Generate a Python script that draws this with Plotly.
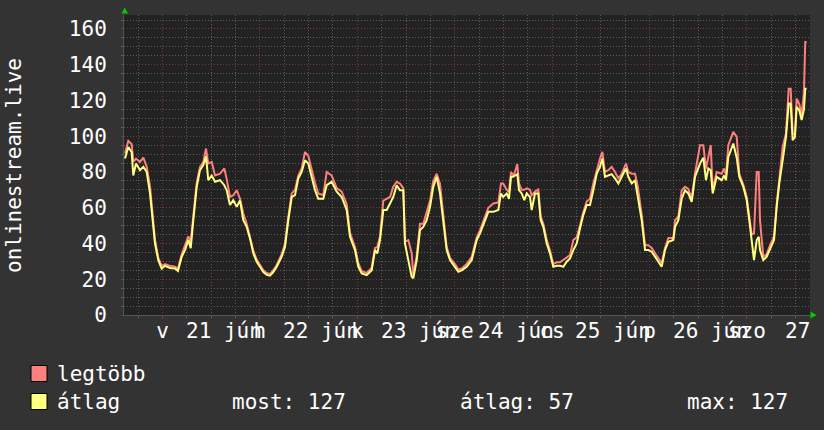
import pandas as pd
import plotly.graph_objects as go

# ---- data (hours after 2020-06-20 14:30) ----
hours = [0.25, 1.06, 1.9, 2.29, 2.96, 3.94, 4.76, 5.59, 6.41, 6.83, 7.22, 7.64, 8.45, 9.29, 10.1, 11.34, 12.57, 13.3,
         14.22, 15.03, 15.85, 16.44, 17.08, 17.92, 18.73, 19.54, 20.21, 20.77, 21.61, 22.43, 23.66, 24.72, 25.31, 26.12,
         26.93, 27.77, 28.59, 29.4, 30.24, 31.05, 31.86, 32.7, 33.51, 34.33, 35.17, 35.98, 36.79, 37.63, 38.86, 39.67,
         40.49, 41.33, 42.14, 42.95, 43.79, 44.6, 45.42, 46.25, 47.07, 47.88, 49.11, 49.95, 51.18, 52.42, 53.65, 54.88,
         55.69, 56.92, 57.74, 58.58, 59.81, 61.04, 61.85, 62.42, 63.09, 63.9, 64.74, 65.55, 66.36, 67.2, 68.01, 68.83,
         69.24, 70.06, 70.9, 71.29, 72.13, 72.94, 73.75, 74.59, 75.41, 76.22, 77.06, 77.87, 78.68, 79.52, 80.34, 81.57,
         82.38, 83.22, 84.45, 85.68, 86.92, 87.73, 88.96, 89.78, 91.01, 92.24, 92.9, 93.47, 94.31, 94.87, 95.37, 95.93,
         96.35, 96.92, 97.34, 98.0, 98.64, 99.24, 100.05, 100.47, 101.28, 102.09, 102.69, 103.33, 104.17, 104.98,
         105.79, 106.63, 107.44, 108.26, 109.09, 109.91, 110.72, 111.56, 112.37, 113.18, 114.02, 114.83, 115.65,
         116.49, 117.3, 117.87, 118.53, 119.35, 120.18, 121.0, 121.82, 122.65, 123.71, 124.28, 125.12, 125.93, 126.6,
         127.58, 128.4, 129.2, 130.04, 130.86, 132.5, 133.32, 134.14, 135.37, 135.79, 136.6, 137.43, 138.24, 139.06,
         139.9, 140.71, 141.95, 142.76, 143.42, 143.99, 144.58, 145.07, 146.06, 147.29, 147.86, 148.35, 148.92,
         150.15, 150.99, 151.63, 152.61, 153.45, 154.09, 154.68, 155.25, 155.92, 156.41, 156.73, 157.54, 158.38,
         159.19, 160.18, 160.84, 161.48, 162.32, 163.13, 163.8, 164.29, 164.78, 165.34, 165.76, 166.4, 166.99,
         167.56, 167.88, 168.23]

atlag = [87.5, 94, 91, 78, 84.7, 81, 82.9, 80, 68, 59.6, 49.3, 40, 30.7, 26, 27.5, 26.3, 26, 24.6,
         32.6, 36.3, 41.9, 37.4, 53, 71.7, 81, 83.8, 88.8, 75.4, 78, 74.5, 75.4, 72.6, 69.8, 61.5,
         64.2, 60.5, 64, 53, 49.3, 42.8, 34.5, 29.8, 27, 24, 22.5, 22, 24, 27, 32.6, 38,
         53, 66, 67, 76.4, 80, 86.6, 84.7, 77.3, 69.8, 65, 65, 72.6, 74.5, 69, 66, 58.7,
         43.7, 36.3, 27, 23.3, 22.3, 25, 36.3, 34.5, 41.9, 58.7, 58.7, 62.4, 66, 72.6, 69.8, 69.8,
         40, 30.7, 21.4, 20.5, 30.7, 47.5, 49.3, 53, 60.5, 71.7, 77.3, 68, 53, 36.3, 30.7, 27,
         24.2, 25, 27, 30.7, 41.9, 45.6, 53, 57.7, 57.7, 58.7, 68, 66, 68, 65, 77.3, 77.3,
         78, 78.8, 69.8, 68, 64.2, 68, 66, 58.7, 68, 68, 53, 49.3, 40, 34.5,
         27, 27.5, 27.5, 27, 29.8, 31.7, 36.3, 40, 48.4, 55.9, 61.5, 61.5, 69.8,
         79, 82.9, 87.5, 77.3, 78, 78.8, 76.4, 73.6, 77.3, 82, 77.3, 73.6, 75.4, 67,
         53, 36.3, 36.3, 35.4, 32.6, 27, 36.3, 41, 42, 49.3, 53, 65, 69.8, 68,
         63.3, 77.3, 84.7, 88, 75.4, 82, 81, 68, 77.3, 75.4, 78, 75.4, 88.4,
         95.9, 88, 77.3, 71.7, 64.2, 53, 41.9, 30.7, 41.9, 43.7, 36.3, 30.7, 32.6,
         37.3, 41.9, 60.5, 73.6, 86.6, 99.6, 118.3, 118.3, 97.8, 99.6, 116.4, 114.5, 109,
         115, 126.6, 126.6]

legtobb = [90.5, 97.4, 95.5, 85.6, 87.5, 85.6, 88, 83, 72, 63, 52, 42, 32, 27.5, 28.5, 27.5, 27, 26,
           34, 39, 44, 41, 56, 74, 82.9, 85.6, 93.1, 84.7, 85.6, 78, 79, 82, 76, 66,
           67, 69.8, 65, 56.8, 51, 44, 36, 31, 28, 25, 23.5, 23, 25, 28, 34, 40,
           55, 68, 70, 78, 82, 91.2, 89, 81, 74, 68, 67, 80, 78, 71, 69, 62,
           46, 38, 29, 24.5, 23.5, 26.5, 37.5, 38, 44, 64, 65, 66, 71.7, 74.5, 73.5, 71,
           41, 41.9, 34.5, 22.3, 33, 51, 51, 57, 64, 75, 79, 73.5, 55, 38, 32, 28.5,
           25.5, 26, 28.5, 32.5, 43.5, 47.5, 55, 60, 62.4, 63, 73.6, 73.6, 70, 69, 80, 78,
           80, 84.4, 73.6, 70, 70, 70.8, 70, 67, 69, 70.2, 55, 51, 42, 36,
           28.5, 29.5, 29.5, 31, 32.5, 33.5, 41.9, 43.5, 50, 57.5, 63.5, 65, 73.5,
           81, 87.5, 91.2, 80, 81, 82.9, 80, 76.5, 79, 84.7, 80, 79, 79, 72,
           56, 39, 39, 37.5, 34.5, 29, 37.5, 43, 43, 53, 55, 69.8, 71.7, 70.5,
           65, 79, 95, 95, 81.9, 88.4, 95, 70, 80, 79, 81.9, 78, 95,
           102.4, 99.6, 79, 73, 66, 55, 45, 45.6, 80, 80, 53, 32.5, 34,
           39, 44, 62, 74.5, 94, 101.5, 126.6, 126.6, 101.5, 101, 121, 118, 112,
           124.8, 152.7, 152.7]

day_dates = ["2020-06-21", "2020-06-22", "2020-06-23", "2020-06-24", "2020-06-25", "2020-06-26", "2020-06-27"]
day_names = ["v", "h", "k", "sze", "cs", "p", "szo"]
date_labels = ["21 jún", "22 jún", "23 jún", "24 jún", "25 jún", "26 jún", "27"]
y_ticks = [0, 20, 40, 60, 80, 100, 120, 140, 160]

legend_names = ["legtöbb", "átlag"]
stats_labels = ["most: 127", "átlag: 57", "max: 127"]

# ---- layout constants ----
W, H = 824, 430
ML, MR, MT, MB = 124, 14, 15, 115
PW, PH = W - ML - MR, H - MT - MB
FONT = "DejaVu Sans Mono"
FS = 21
RED = "#ff7f7f"
YEL = "#ffff80"


def px(xp):
    return (xp - ML) / PW


def py(yp):
    return (H - MB - yp) / PH


start = pd.Timestamp("2020-06-20 14:30")
t = start + pd.to_timedelta(hours, unit="h")
x_end = start + pd.Timedelta(hours=169.05)

fig = go.Figure()
fig.add_trace(go.Scatter(x=t, y=legtobb, mode="lines", line=dict(color=RED, width=2), name=legend_names[0]))
fig.add_trace(go.Scatter(x=t, y=atlag, mode="lines", line=dict(color=YEL, width=2), name=legend_names[1]))

grid_major = "#7a3838"
grid_minor = "#5c5c5c"

fig.update_layout(
    width=W, height=H,
    margin=dict(l=ML, r=MR, t=MT, b=MB),
    paper_bgcolor="#333333",
    plot_bgcolor="#222222",
    showlegend=False,
    font=dict(family=FONT, size=FS, color="#ffffff"),
    xaxis=dict(
        type="date",
        range=[start, x_end],
        tickmode="array",
        tickvals=day_dates,
        ticktext=day_names,
        showgrid=True, gridcolor=grid_major, griddash="1px,2px", gridwidth=1,
        ticks="outside", ticklen=3, tickcolor=grid_major,
        showline=True, linecolor="#555555", linewidth=1,
        zeroline=False,
        ticklabelstandoff=-6,
        tickfont=dict(family=FONT, size=FS, color="#ffffff"),
        minor=dict(tick0="2020-06-21", dtick=6 * 3600000, showgrid=True, gridcolor=grid_minor,
                   griddash="1px,2px", ticks="outside", ticklen=2, tickcolor=grid_minor),
    ),
    yaxis=dict(
        range=[0, 167.8],
        tickmode="array",
        tickvals=y_ticks,
        showgrid=True, gridcolor=grid_major, griddash="1px,2px", gridwidth=1,
        ticks="outside", ticklen=2, tickcolor=grid_major,
        showline=True, linecolor="#555555", linewidth=1,
        zeroline=False,
        ticklabelstandoff=10,
        tickfont=dict(family=FONT, size=FS, color="#ffffff"),
        minor=dict(tick0=0, dtick=5, showgrid=True, gridcolor=grid_minor,
                   griddash="1px,2px", ticks="outside", ticklen=2, tickcolor=grid_minor),
    ),
)

annotations = []
# date labels under the axis
for i, (d, lab) in enumerate(zip(day_dates, date_labels)):
    if i < len(day_dates) - 1:
        ax = pd.Timestamp(d) + pd.Timedelta(hours=6)
        annotations.append(dict(x=ax, xref="x", y=py(331), yref="paper", text=lab, showarrow=False,
                                xanchor="left", yanchor="middle", xshift=-3,
                                font=dict(family=FONT, size=FS, color="#ffffff")))
    else:
        annotations.append(dict(x=px(810), xref="paper", y=py(331), yref="paper", text=lab, showarrow=False,
                                xanchor="right", yanchor="middle", xshift=2,
                                font=dict(family=FONT, size=FS, color="#ffffff")))

# y axis title
annotations.append(dict(x=px(14), y=py(166), xref="paper", yref="paper", text="onlinestream.live",
                        textangle=-90, showarrow=False, xanchor="center", yanchor="middle",
                        font=dict(family=FONT, size=FS, color="#ffffff")))

# legend
row_y = [373.5, 401.5]
colors = [RED, YEL]
shapes = []
for name, c, ry in zip(legend_names, colors, row_y):
    shapes.append(dict(type="rect", xref="paper", yref="paper", x0=px(31), x1=px(47), y0=py(ry - 8), y1=py(ry + 8),
                       fillcolor=c, line=dict(color="#000000", width=1)))
    annotations.append(dict(x=px(57), y=py(ry), xref="paper", yref="paper", text=name, showarrow=False,
                            xanchor="left", yanchor="middle", xshift=-2,
                            font=dict(family=FONT, size=FS, color="#ffffff")))
for lab, sx in zip(stats_labels, [232, 460, 687]):
    annotations.append(dict(x=px(sx), y=py(row_y[1]), xref="paper", yref="paper", text=lab, showarrow=False,
                            xanchor="left", yanchor="middle", xshift=-2,
                            font=dict(family=FONT, size=FS, color="#ffffff")))

# green axis arrows
shapes.append(dict(type="path", xref="paper", yref="paper",
                   path=f"M {px(121.5)} {py(13.5)} L {px(128)} {py(13.5)} L {px(124.7)} {py(7.5)} Z",
                   fillcolor="#00cc00", line=dict(width=0)))
shapes.append(dict(type="path", xref="paper", yref="paper",
                   path=f"M {px(810.5)} {py(311.5)} L {px(810.5)} {py(318.5)} L {px(816.5)} {py(315)} Z",
                   fillcolor="#00cc00", line=dict(width=0)))

fig.update_layout(annotations=annotations, shapes=shapes)
fig.write_html("out.html")
